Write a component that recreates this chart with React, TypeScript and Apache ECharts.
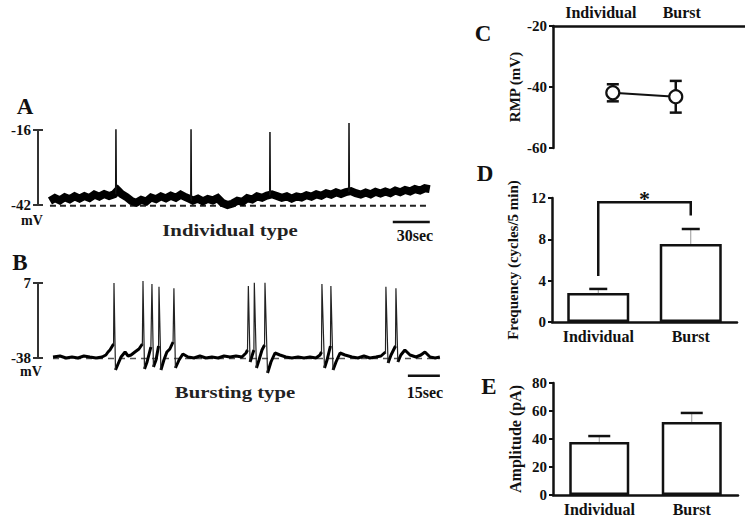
import React, { useEffect, useRef } from "react";
import * as echarts from "echarts";

// ---------- Panel A: individual type trace (time in s, membrane potential in mV)
const aTrace: [number, number][] = [
  [0, -40.6], [4, -39.6], [8, -40.4], [12, -39.3], [16, -40.0], [20, -39.0], [24, -39.8], [28, -38.9],
  [32, -39.6], [36, -38.4], [40, -39.1], [44, -38.2], [48, -38.9], [52, -38.3], [55, -36.9], [58, -38.2],
  [62, -39.2], [66, -40.6], [70, -41.2], [74, -40.2], [78, -40.8], [82, -39.4], [86, -40.0], [90, -39.0],
  [94, -39.7], [98, -38.8], [102, -39.5], [106, -38.4], [110, -39.3], [113, -39.8], [116, -40.5], [120, -39.8],
  [124, -40.7], [128, -39.9], [132, -40.4], [136, -39.6], [140, -41.3], [144, -42.0], [148, -41.5], [152, -40.5],
  [156, -40.9], [160, -39.6], [164, -40.1], [168, -39.0], [172, -39.5], [176, -38.7], [180, -38.3], [184, -38.9],
  [188, -39.5], [192, -39.0], [196, -39.8], [200, -39.0], [204, -39.4], [208, -38.6], [212, -39.1], [216, -38.3],
  [220, -38.8], [224, -37.9], [228, -38.4], [232, -37.6], [236, -38.2], [240, -37.5], [244, -37.2], [248, -37.9],
  [252, -38.4], [256, -37.7], [260, -38.3], [264, -37.4], [268, -38.0], [272, -37.3], [276, -37.9], [280, -37.0],
  [284, -37.6], [288, -36.8], [292, -37.3], [296, -36.5], [300, -37.0], [304, -36.2], [308, -36.5],
];
const aSpikeTimes = [53.5, 114.4, 178.4, 242.5];
const aSpikePeaks = [-15.7, -15.7, -16.7, -13.6];
const aRestLine = -42.3;
const aScaleBarSec = [278, 308];
const aScaleBarMv = -47.9;
const aVoltTicks = [-42, -16];
const aTimeRange = [-9.7, 309.8];

// ---------- Panel B: bursting type trace
const bTrace: [number, number][] = [
  [0, -37.4], [3.3, -36.8], [6.1, -38], [8.9, -37.4], [11.7, -38], [14.5, -36.8], [17.3, -37.4], [20.2, -38],
  [23, -37.4], [24.8, -36.2], [25.8, -34.4], [26.7, -33.2], [28.4, -29.6],
  [29.3, -45.2], [30.5, -41.6], [31.9, -37.4], [33.8, -34.4], [35.2, -36.8], [36.6, -36.2], [38.4, -34.4],
  [40.3, -32.6], [41.9, -29.6],
  [42.9, -44.6], [44.1, -40.4], [45.9, -31.4],
  [47.1, -43.4], [48.3, -39.2], [49.5, -30.8],
  [50.6, -45.2], [52, -39.2], [53.4, -34.4], [54.8, -32.6], [56.3, -28.4],
  [57.4, -44], [59.1, -39.2], [60.9, -35.6], [63.3, -37.4], [66.1, -38], [68.9, -36.8], [71.7, -38],
  [74.5, -37.4], [77.4, -38], [80.2, -36.8], [83, -37.4], [85.8, -36.8], [88.6, -37.4], [90.5, -35], [91.2, -33.2],
  [92.4, -40.4], [93.3, -36.8], [94.2, -33.2],
  [95.4, -44], [96.6, -39.2], [98, -33.2], [99.2, -30.2],
  [100.6, -47], [102.2, -40.4], [104.1, -35], [106.4, -36.2], [109.2, -37.4], [112, -38], [114.9, -37.4],
  [117.7, -38], [120.5, -37.4], [123.3, -38], [125.2, -36.2], [125.9, -34.4],
  [127.3, -44], [128.5, -39.2], [130.1, -30.8],
  [131.3, -45.2], [132.7, -40.4], [134.6, -35], [136.9, -36.2], [140.2, -37.4], [143, -38], [145.8, -36.8],
  [148.6, -38], [151.4, -37.4], [153.8, -36.8], [155.9, -34.4],
  [157.1, -41], [158.5, -36.2], [160.6, -30.8],
  [161.7, -40.4], [163.1, -36.2], [165, -33.2], [167.4, -36.2], [170.2, -37.4], [172.5, -36.2], [174.4, -34.4],
  [176.8, -37.4], [179.2, -38], [181.4, -37.4],
];
const bSpikeTimes = [28.6, 42.2, 46.4, 49.7, 56.7, 91.6, 94.4, 99.4, 126.1, 130.3, 156.1, 160.8];
const bSpikePeaks = [7, 8.2, 6.4, 4.8, 3.8, 5.2, 7.2, 7.2, 6.4, 5.2, 4.8, 3.8];
const bRestLine = -38.3;
const bScaleBarSec = [166.4, 181.4];
const bScaleBarMv = -48.6;
const bVoltTicks = [-38, 7];
const bTimeRange = [-7.03, 182.4];

// ---------- Panels C, D, E
const groups = ["Individual", "Burst"];
const rmpMean = [-41.9, -43.2];
const rmpErr = [2.8, 5.2];
const freqMean = [2.8, 7.55];
const freqErr = [0.4, 1.45];
const ampMean = [37.9, 52.1];
const ampErr = [4.2, 6.5];
const sigBracket = [4.45, 11.6, 10.3]; // left leg bottom, bracket top, right leg bottom

const SERIF = "Liberation Serif";
const INK = "#111";

function neighbours(trace: [number, number][], t: number) {
  let i = 0;
  while (i < trace.length - 1 && trace[i + 1][0] < t) i++;
  return [trace[i], trace[i + 1]];
}

function buildSpikes(trace: [number, number][], times: number[], peaks: number[], tight: boolean) {
  const out: any[] = [];
  times.forEach((t, k) => {
    const [p, n] = neighbours(trace, t);
    if (tight) {
      out.push([t - 0.2, p[1]], [t, peaks[k]], [t + 0.3, n[1]], "-");
    } else {
      out.push(p, [t, peaks[k]], n, "-");
    }
  });
  return out;
}

function buildBrokenTrace(trace: [number, number][], times: number[]) {
  const out: any[] = [];
  trace.forEach((pt, i) => {
    out.push(pt);
    const next = trace[i + 1];
    if (next && times.some((t) => t > pt[0] && t < next[0])) out.push("-");
  });
  return out;
}

// right-hand half of the I-beam ends of the voltage scale bar (5px wide)
function capHalves(range: number[], widthPx: number, ticks: number[]) {
  const dt = ((range[1] - range[0]) / widthPx) * 5;
  const out: any[] = [];
  ticks.forEach((v) => out.push([range[0], v], [range[0] + dt, v], "-"));
  return out;
}

const labelFont = { fontFamily: SERIF, fontWeight: "bold" as const, color: INK };

function barErrorRender(half: number) {
  return (params: any, api: any) => {
    const x = api.value(0);
    const m = api.value(1);
    const e = api.value(2);
    const base = api.coord([x, m]);
    const top = api.coord([x, m + e]);
    return {
      type: "group",
      children: [
        { type: "line", shape: { x1: base[0], y1: base[1], x2: top[0], y2: top[1] }, style: { stroke: "#999", lineWidth: 1 } },
        { type: "line", shape: { x1: top[0] - half, y1: top[1], x2: top[0] + half, y2: top[1] }, style: { stroke: INK, lineWidth: 2.5 } },
      ],
    };
  };
}

function traceYAxis(grid: number, min: number, max: number, ticks: number[]) {
  return {
    gridIndex: grid, type: "value", min, max, position: "left",
    axisLine: { show: true, onZero: false, lineStyle: { color: "#333", width: 2 } },
    axisTick: { show: true, length: 5, customValues: ticks, lineStyle: { color: "#333", width: 2 } },
    axisLabel: { customValues: ticks, margin: 7, fontSize: 15, ...labelFont },
    splitLine: { show: false },
  };
}

export default function App() {
  const ref = useRef<HTMLDivElement>(null);

  useEffect(() => {
    if (!ref.current) return;
    const chart = echarts.init(ref.current, undefined, { renderer: "svg" });

    const option: any = {
      animation: false,
      backgroundColor: "#fff",
      textStyle: { fontFamily: SERIF },
      grid: [
        { left: 38, top: 130, width: 394, height: 75 },
        { left: 38, top: 283, width: 404, height: 75 },
        { left: 553, top: 26, right: 0, height: 122 },
        { left: 552, top: 198, width: 185, height: 124 },
        { left: 553, top: 383, width: 185, height: 112 },
      ],
      xAxis: [
        { gridIndex: 0, type: "value", min: aTimeRange[0], max: aTimeRange[1], show: false },
        { gridIndex: 1, type: "value", min: bTimeRange[0], max: bTimeRange[1], show: false },
        {
          gridIndex: 2, type: "value", min: 0.05, max: 3.1, position: "top",
          axisLine: { show: true, onZero: false, lineStyle: { color: INK, width: 2.5 } },
          axisTick: { show: false },
          axisLabel: {
            customValues: [1, 2],
            formatter: (v: number) => {
              const i = Math.round(v) - 1;
              return i === 0 ? `{a|${groups[0]}}` : i === 1 ? `{b|${groups[1]}}` : "";
            },
            rich: {
              a: { padding: [0, 24, 0, 0], fontSize: 16, ...labelFont },
              b: { padding: [0, 0, 0, 12], fontSize: 16, ...labelFont },
            },
            margin: 6, fontSize: 16, ...labelFont,
          },
          splitLine: { show: false },
        },
        {
          gridIndex: 3, type: "category", data: groups,
          axisLine: { lineStyle: { color: INK, width: 2.5 } },
          axisTick: { show: false },
          axisLabel: { interval: 0, margin: 6, fontSize: 16, ...labelFont },
        },
        {
          gridIndex: 4, type: "category", data: groups,
          axisLine: { lineStyle: { color: INK, width: 2.5 } },
          axisTick: { show: false },
          axisLabel: { interval: 0, margin: 6, fontSize: 16, ...labelFont },
        },
      ],
      yAxis: [
        traceYAxis(0, -42, -16, aVoltTicks),
        traceYAxis(1, -38, 7, bVoltTicks),
        {
          gridIndex: 2, type: "value", min: -60, max: -20, interval: 20,
          name: "RMP (mV)", nameLocation: "middle", nameGap: 31, nameRotate: 90,
          nameTextStyle: { fontSize: 15, ...labelFont },
          axisLine: { show: true, onZero: false, lineStyle: { color: INK, width: 2.5 } },
          axisTick: { show: true, length: 4, lineStyle: { color: INK, width: 2 } },
          axisLabel: { margin: 6, fontSize: 15, ...labelFont },
          splitLine: { show: false },
        },
        {
          gridIndex: 3, type: "value", min: 0, max: 12, interval: 4,
          name: "Frequency (cycles/5 min)", nameLocation: "middle", nameGap: 32, nameRotate: 90,
          nameTextStyle: { fontSize: 15, ...labelFont },
          axisLine: { show: true, onZero: false, lineStyle: { color: INK, width: 2.5 } },
          axisTick: { show: true, length: 4, lineStyle: { color: INK, width: 2 } },
          axisLabel: { margin: 6, fontSize: 15, ...labelFont },
          splitLine: { show: false },
        },
        {
          gridIndex: 4, type: "value", min: 0, max: 80, interval: 20,
          name: "Amplitude (pA)", nameLocation: "middle", nameGap: 30, nameRotate: 90,
          nameTextStyle: { fontSize: 16, ...labelFont },
          axisLine: { show: true, onZero: false, lineStyle: { color: INK, width: 2.5 } },
          axisTick: { show: true, length: 4, lineStyle: { color: INK, width: 2 } },
          axisLabel: { margin: 6, fontSize: 15, ...labelFont },
          splitLine: { show: false },
        },
      ],
      series: [
        // ---- A
        {
          type: "line", xAxisIndex: 0, yAxisIndex: 0, clip: false, symbol: "none", z: 1, silent: true,
          data: [[aTrace[0][0], aRestLine], [aTrace[aTrace.length - 1][0], aRestLine]],
          lineStyle: { color: "#222", width: 2, type: [6, 4] },
        },
        {
          type: "line", xAxisIndex: 0, yAxisIndex: 0, clip: false, symbol: "none", z: 2,
          data: aTrace, lineStyle: { color: "#000", width: 8, join: "miter" },
        },
        {
          type: "line", xAxisIndex: 0, yAxisIndex: 0, clip: false, symbol: "none", z: 3,
          data: buildSpikes(aTrace, aSpikeTimes, aSpikePeaks, true), connectNulls: false,
          lineStyle: { color: "#111", width: 1.5 },
        },
        {
          type: "line", xAxisIndex: 0, yAxisIndex: 0, clip: false, symbol: "none", z: 3,
          data: [[aScaleBarSec[0], aScaleBarMv], [aScaleBarSec[1], aScaleBarMv]],
          lineStyle: { color: "#111", width: 2.5 },
        },
        {
          type: "line", xAxisIndex: 0, yAxisIndex: 0, clip: false, symbol: "none", z: 3,
          data: capHalves(aTimeRange, 394, aVoltTicks), connectNulls: false,
          lineStyle: { color: "#333", width: 2 },
        },
        // ---- B
        {
          type: "line", xAxisIndex: 1, yAxisIndex: 1, clip: false, symbol: "none", z: 1,
          data: [[bTrace[0][0], bRestLine], [bTrace[bTrace.length - 1][0], bRestLine]],
          lineStyle: { color: "#555", width: 1.5, type: [6, 5] },
        },
        {
          type: "line", xAxisIndex: 1, yAxisIndex: 1, clip: false, symbol: "none", z: 2,
          data: buildBrokenTrace(bTrace, bSpikeTimes), connectNulls: false,
          lineStyle: { color: "#000", width: 3 },
        },
        {
          type: "line", xAxisIndex: 1, yAxisIndex: 1, clip: false, symbol: "none", z: 3,
          data: buildSpikes(bTrace, bSpikeTimes, bSpikePeaks, false), connectNulls: false,
          lineStyle: { color: "#222", width: 1.2 },
        },
        {
          type: "line", xAxisIndex: 1, yAxisIndex: 1, clip: false, symbol: "none", z: 3,
          data: [[bScaleBarSec[0], bScaleBarMv], [bScaleBarSec[1], bScaleBarMv]],
          lineStyle: { color: "#111", width: 2.5 },
        },
        {
          type: "line", xAxisIndex: 1, yAxisIndex: 1, clip: false, symbol: "none", z: 3,
          data: capHalves(bTimeRange, 404, bVoltTicks), connectNulls: false,
          lineStyle: { color: "#333", width: 2 },
        },
        // ---- C
        {
          type: "custom", xAxisIndex: 2, yAxisIndex: 2, z: 2,
          data: rmpMean.map((m, i) => [i + 1, m, rmpErr[i]]),
          renderItem: (params: any, api: any) => {
            const x = api.value(0), m = api.value(1), e = api.value(2);
            const hi = api.coord([x, m + e]);
            const lo = api.coord([x, m - e]);
            const hw = 6;
            const st = { stroke: INK, lineWidth: 2.5 };
            return {
              type: "group",
              children: [
                { type: "line", shape: { x1: hi[0], y1: hi[1], x2: lo[0], y2: lo[1] }, style: st },
                { type: "line", shape: { x1: hi[0] - hw, y1: hi[1], x2: hi[0] + hw, y2: hi[1] }, style: st },
                { type: "line", shape: { x1: lo[0] - hw, y1: lo[1], x2: lo[0] + hw, y2: lo[1] }, style: st },
              ],
            };
          },
        },
        {
          type: "line", xAxisIndex: 2, yAxisIndex: 2, z: 3,
          data: rmpMean.map((m, i) => [i + 1, m]),
          symbol: "circle", symbolSize: 13,
          itemStyle: { color: "#fff", borderColor: INK, borderWidth: 2.2 },
          lineStyle: { color: INK, width: 2 },
        },
        // ---- D
        {
          type: "bar", xAxisIndex: 3, yAxisIndex: 3, barWidth: 62, z: 2,
          data: freqMean,
          itemStyle: { color: "#fff", borderColor: INK, borderWidth: 2.5 },
        },
        {
          type: "custom", xAxisIndex: 3, yAxisIndex: 3, z: 3,
          data: freqMean.map((m, i) => [i, m, freqErr[i]]),
          renderItem: barErrorRender(9),
        },
        {
          type: "custom", xAxisIndex: 3, yAxisIndex: 3, z: 3,
          data: [sigBracket],
          renderItem: (params: any, api: any) => {
            const l0 = api.coord([0, api.value(0)]);
            const lt = api.coord([0, api.value(1)]);
            const rt = api.coord([1, api.value(1)]);
            const r0 = api.coord([1, api.value(2)]);
            return {
              type: "group",
              children: [
                {
                  type: "polyline",
                  shape: { points: [l0, lt, rt, r0] },
                  style: { stroke: INK, lineWidth: 2.5, fill: "none" },
                },
                {
                  type: "text",
                  x: (lt[0] + rt[0]) / 2, y: lt[1] - 4,
                  style: {
                    text: "*", fill: INK, font: `bold 22px '${SERIF}'`,
                    align: "center", verticalAlign: "middle", textAlign: "center", textVerticalAlign: "middle",
                  },
                },
              ],
            };
          },
        },
        // ---- E
        {
          type: "bar", xAxisIndex: 4, yAxisIndex: 4, barWidth: 60, z: 2,
          data: ampMean,
          itemStyle: { color: "#fff", borderColor: INK, borderWidth: 2.5 },
        },
        {
          type: "custom", xAxisIndex: 4, yAxisIndex: 4, z: 3,
          data: ampMean.map((m, i) => [i, m, ampErr[i]]),
          renderItem: barErrorRender(11),
        },
      ],
      graphic: [
        ...[
          ["A", 25, 106], ["B", 20, 262], ["C", 483, 33], ["D", 485, 173], ["E", 489, 386],
        ].map(([t, x, y]) => ({
          type: "text", x, y,
          style: { text: t, font: `bold 23px '${SERIF}'`, fill: INK, textAlign: "center", textVerticalAlign: "middle" },
        })),
        ...[
          ["mV", 32, 220], ["mV", 31, 371],
        ].map(([t, x, y]) => ({
          type: "text", x, y,
          style: { text: t, font: `bold 14px '${SERIF}'`, fill: INK, textAlign: "center", textVerticalAlign: "middle" },
        })),
        ...[
          ["Individual type", 230, 230], ["Bursting type", 235, 392],
        ].map(([t, x, y]) => ({
          type: "text", x, y, scaleX: 1.22,
          style: { text: t, font: `bold 17px '${SERIF}'`, fill: "#222", textAlign: "center", textVerticalAlign: "middle" },
        })),
        ...[
          ["30sec", 415, 235], ["15sec", 425, 392],
        ].map(([t, x, y]) => ({
          type: "text", x, y,
          style: { text: t, font: `bold 16px '${SERIF}'`, fill: INK, textAlign: "center", textVerticalAlign: "middle" },
        })),
      ],
    };

    chart.setOption(option);
    return () => chart.dispose();
  }, []);

  return (
    <div
      ref={ref}
      style={{ position: "fixed", left: 0, top: 0, width: 745, height: 528, background: "#fff" }}
    />
  );
}
